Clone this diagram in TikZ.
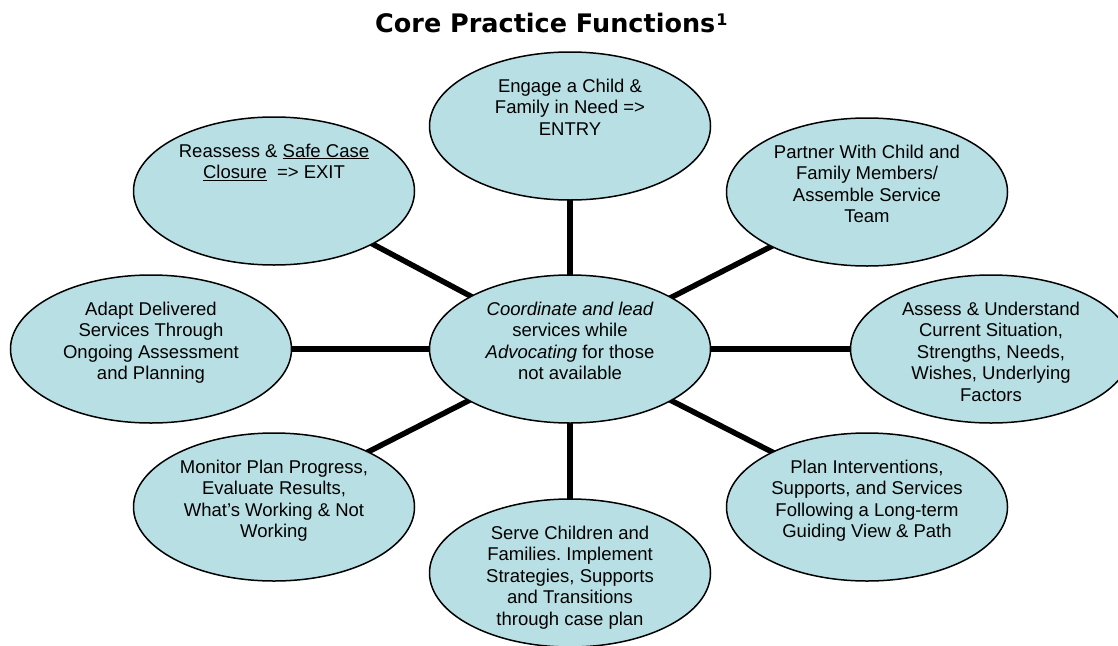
\documentclass[tikz,border=0pt]{standalone}
\usepackage{fontspec}
\setmainfont{Liberation Sans}
\newfontfamily\titlefont{DejaVu Sans}
\usetikzlibrary{shapes.geometric,backgrounds}
\definecolor{bubble}{RGB}{184,224,228}
\frenchspacing
\newcommand\bubtext[1]{\raisebox{34pt}[0pt][0pt]{\makebox[0pt]{\begin{tabular}[t]{@{}c@{}}#1\end{tabular}}}}
\tikzset{
  bub/.style={ellipse, draw=black, line width=1.5pt, fill=bubble, inner sep=0pt,
    minimum width=281pt, minimum height=148pt,
    font=\fontsize{18.5}{21.5}\selectfont},
  spoke/.style={line width=5.5pt, draw=black}
}
\begin{document}
\begin{tikzpicture}[x=1pt,y=-1pt]
\useasboundingbox (0,0) rectangle (1118,645);
\node[anchor=base west, inner sep=0pt, font=\titlefont\bfseries\fontsize{25.5}{28}\selectfont] (title) at (375,32)
  {Core Practice Functions\kern1pt\raisebox{7pt}{\fontsize{16}{16}\selectfont 1}};
\node[bub] (c) at (570,349)
  {\bubtext{\itshape Coordinate and lead\\ services while\\ {\itshape Advocating} for those\\ not available}};
\node[bub] (engage) at (570,126)
  {\bubtext{Engage a Child \&\\ Family in Need =>\\ ENTRY}};
\node[bub] (partner) at (867,192)
  {\bubtext{Partner With Child and\\ Family Members/\\ Assemble Service\\ Team}};
\node[bub] (assess) at (991,349)
  {\bubtext{Assess \& Understand\\ Current Situation,\\ Strengths, Needs,\\ Wishes, Underlying\\ Factors}};
\node[bub] (plan) at (867,507)
  {\bubtext{Plan Interventions,\\ Supports, and Services\\ Following a Long-term\\ Guiding View \& Path}};
\node[bub] (serve) at (570,573)
  {\bubtext{Serve Children and\\ Families. Implement\\ Strategies, Supports\\ and Transitions\\ through case plan}};
\node[bub] (monitor) at (274,507)
  {\bubtext{Monitor Plan Progress,\\ Evaluate Results,\\ What’s Working \& Not\\ Working}};
\node[bub] (adapt) at (151,349)
  {\bubtext{Adapt Delivered\\ Services Through\\ Ongoing Assessment\\ and Planning}};
\node[bub] (reassess) at (274,191)
  {\bubtext{Reassess \& \underline{Safe Case}\\ \underline{Closure}~~=> EXIT}};
\begin{scope}[on background layer]
  \path (c.center) ++(90:180pt) coordinate (eE)
        (c.center) ++(27:300pt) coordinate (eP)
        (c.center) ++(0:350pt) coordinate (eA)
        (c.center) ++(-27:300pt) coordinate (eL)
        (c.center) ++(-90:180pt) coordinate (eS)
        (c.center) ++(-153:300pt) coordinate (eM)
        (c.center) ++(180:350pt) coordinate (eD)
        (c.center) ++(152:300pt) coordinate (eR);
  \foreach \n in {eE,eP,eA,eL,eS,eM,eD,eR}
    \draw[spoke] (c.center) -- (\n);
\end{scope}
\end{tikzpicture}
\end{document}
